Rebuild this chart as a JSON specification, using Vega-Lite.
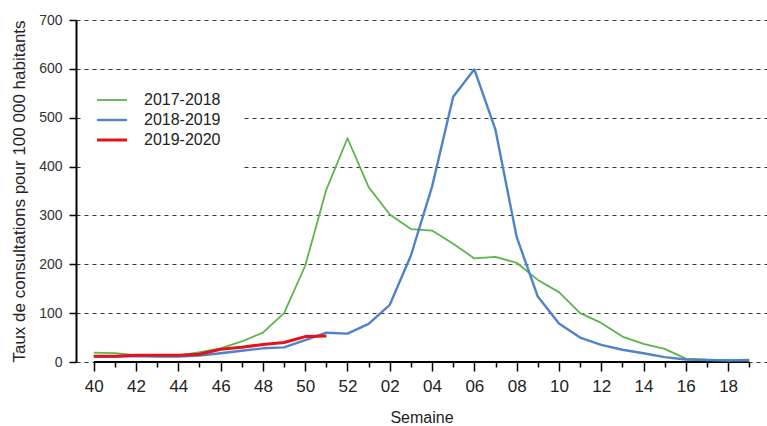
{
  "$schema": "https://vega.github.io/schema/vega-lite/v6.json",
  "width": 691,
  "height": 342,
  "autosize": {"type": "none"},
  "padding": {"left": 76, "top": 20, "right": 0, "bottom": 64},
  "config": {
    "view": {"stroke": null},
    "font": "Liberation Sans",
    "legend": {"fillColor": "white"}
  },
  "datasets": {
    "axisline": [{"week": "40", "week_end": "19", "rate": 0}]
  },
  "encoding": {
    "x": {
      "field": "week",
      "type": "ordinal",
      "scale": {
        "type": "point",
        "padding": 0.84,
        "domain": ["40","41","42","43","44","45","46","47","48","49","50","51","52","01","02","03","04","05","06","07","08","09","10","11","12","13","14","15","16","17","18","19"]
      },
      "axis": {
        "title": "Semaine",
        "titleFontSize": 16,
        "titleFontWeight": "normal",
        "titleColor": "#222",
        "titlePadding": 15,
        "domain": false,
        "grid": false,
        "labelAngle": 0,
        "labelFontSize": 17,
        "labelColor": "#222",
        "labelPadding": 7,
        "labelExpr": "parseInt(datum.value) % 2 == 0 ? datum.value : ''",
        "tickColor": "black",
        "tickWidth": 1.5,
        "tickSize": {"condition": {"test": "parseInt(datum.value) % 2 == 0", "value": 9}, "value": 5}
      }
    },
    "y": {
      "field": "rate",
      "type": "quantitative",
      "scale": {"domain": [0, 700], "nice": false},
      "axis": {
        "title": "Taux de consultations pour 100 000 habitants",
        "titleFontSize": 17,
        "titleFontWeight": "normal",
        "titleColor": "#222",
        "titlePadding": 10,
        "values": [0, 100, 200, 300, 400, 500, 600, 700],
        "domainColor": "black",
        "domainWidth": 2,
        "tickColor": "black",
        "tickWidth": 1.5,
        "tickSize": 7,
        "labelFontSize": 14,
        "labelColor": "#333",
        "labelPadding": 7,
        "grid": true,
        "gridColor": "#333",
        "gridDash": [4, 4],
        "gridWidth": 1
      }
    }
  },
  "layer": [
    {
      "data": {"name": "axisline"},
      "mark": {"type": "rule", "color": "black", "strokeWidth": 2},
      "encoding": {
        "x2": {"field": "week_end"}
      }
    },
    {
      "data": {
        "values": [
          {"season": "2017-2018", "week": "40", "rate": 19},
          {"season": "2017-2018", "week": "41", "rate": 18},
          {"season": "2017-2018", "week": "42", "rate": 14},
          {"season": "2017-2018", "week": "43", "rate": 13},
          {"season": "2017-2018", "week": "44", "rate": 13},
          {"season": "2017-2018", "week": "45", "rate": 20},
          {"season": "2017-2018", "week": "46", "rate": 28},
          {"season": "2017-2018", "week": "47", "rate": 42},
          {"season": "2017-2018", "week": "48", "rate": 60},
          {"season": "2017-2018", "week": "49", "rate": 100},
          {"season": "2017-2018", "week": "50", "rate": 197},
          {"season": "2017-2018", "week": "51", "rate": 353},
          {"season": "2017-2018", "week": "52", "rate": 458},
          {"season": "2017-2018", "week": "01", "rate": 358},
          {"season": "2017-2018", "week": "02", "rate": 302},
          {"season": "2017-2018", "week": "03", "rate": 272},
          {"season": "2017-2018", "week": "04", "rate": 269},
          {"season": "2017-2018", "week": "05", "rate": 242},
          {"season": "2017-2018", "week": "06", "rate": 212},
          {"season": "2017-2018", "week": "07", "rate": 215},
          {"season": "2017-2018", "week": "08", "rate": 203},
          {"season": "2017-2018", "week": "09", "rate": 168},
          {"season": "2017-2018", "week": "10", "rate": 143},
          {"season": "2017-2018", "week": "11", "rate": 100},
          {"season": "2017-2018", "week": "12", "rate": 80},
          {"season": "2017-2018", "week": "13", "rate": 52},
          {"season": "2017-2018", "week": "14", "rate": 37},
          {"season": "2017-2018", "week": "15", "rate": 27},
          {"season": "2017-2018", "week": "16", "rate": 7},
          {"season": "2017-2018", "week": "17", "rate": 5},
          {"season": "2017-2018", "week": "18", "rate": 4},
          {"season": "2017-2018", "week": "19", "rate": 3},
          {"season": "2018-2019", "week": "40", "rate": 11},
          {"season": "2018-2019", "week": "41", "rate": 11},
          {"season": "2018-2019", "week": "42", "rate": 12},
          {"season": "2018-2019", "week": "43", "rate": 11},
          {"season": "2018-2019", "week": "44", "rate": 11},
          {"season": "2018-2019", "week": "45", "rate": 13},
          {"season": "2018-2019", "week": "46", "rate": 18},
          {"season": "2018-2019", "week": "47", "rate": 23},
          {"season": "2018-2019", "week": "48", "rate": 28},
          {"season": "2018-2019", "week": "49", "rate": 30},
          {"season": "2018-2019", "week": "50", "rate": 45},
          {"season": "2018-2019", "week": "51", "rate": 60},
          {"season": "2018-2019", "week": "52", "rate": 58},
          {"season": "2018-2019", "week": "01", "rate": 78},
          {"season": "2018-2019", "week": "02", "rate": 117},
          {"season": "2018-2019", "week": "03", "rate": 218},
          {"season": "2018-2019", "week": "04", "rate": 359},
          {"season": "2018-2019", "week": "05", "rate": 543},
          {"season": "2018-2019", "week": "06", "rate": 599},
          {"season": "2018-2019", "week": "07", "rate": 475},
          {"season": "2018-2019", "week": "08", "rate": 256},
          {"season": "2018-2019", "week": "09", "rate": 134},
          {"season": "2018-2019", "week": "10", "rate": 79},
          {"season": "2018-2019", "week": "11", "rate": 50},
          {"season": "2018-2019", "week": "12", "rate": 35},
          {"season": "2018-2019", "week": "13", "rate": 25},
          {"season": "2018-2019", "week": "14", "rate": 18},
          {"season": "2018-2019", "week": "15", "rate": 10},
          {"season": "2018-2019", "week": "16", "rate": 5},
          {"season": "2018-2019", "week": "17", "rate": 4},
          {"season": "2018-2019", "week": "18", "rate": 3},
          {"season": "2018-2019", "week": "19", "rate": 4},
          {"season": "2019-2020", "week": "40", "rate": 12},
          {"season": "2019-2020", "week": "41", "rate": 12},
          {"season": "2019-2020", "week": "42", "rate": 14},
          {"season": "2019-2020", "week": "43", "rate": 14},
          {"season": "2019-2020", "week": "44", "rate": 14},
          {"season": "2019-2020", "week": "45", "rate": 16},
          {"season": "2019-2020", "week": "46", "rate": 26},
          {"season": "2019-2020", "week": "47", "rate": 30},
          {"season": "2019-2020", "week": "48", "rate": 36},
          {"season": "2019-2020", "week": "49", "rate": 40},
          {"season": "2019-2020", "week": "50", "rate": 52},
          {"season": "2019-2020", "week": "51", "rate": 53}
        ]
      },
      "mark": {"type": "line", "strokeJoin": "round"},
      "encoding": {
        "color": {
          "field": "season",
          "type": "nominal",
          "scale": {
            "domain": ["2017-2018", "2018-2019", "2019-2020"],
            "range": ["#5cb54b", "#4f83c8", "#e3121b"]
          },
          "legend": {
            "title": null,
            "orient": "none",
            "legendX": 8,
            "legendY": 52,
            "padding": 20,
            "symbolType": "M-3,0H3",
            "symbolSize": 100,
            "symbolStrokeWidth": 3,
            "labelFontSize": 16,
            "labelColor": "#222",
            "labelOffset": 24,
            "rowPadding": 4
          }
        },
        "strokeWidth": {
          "field": "season",
          "type": "nominal",
          "scale": {
            "domain": ["2017-2018", "2018-2019", "2019-2020"],
            "range": [1.8, 3, 4.2]
          },
          "legend": null
        }
      }
    }
  ]
}
